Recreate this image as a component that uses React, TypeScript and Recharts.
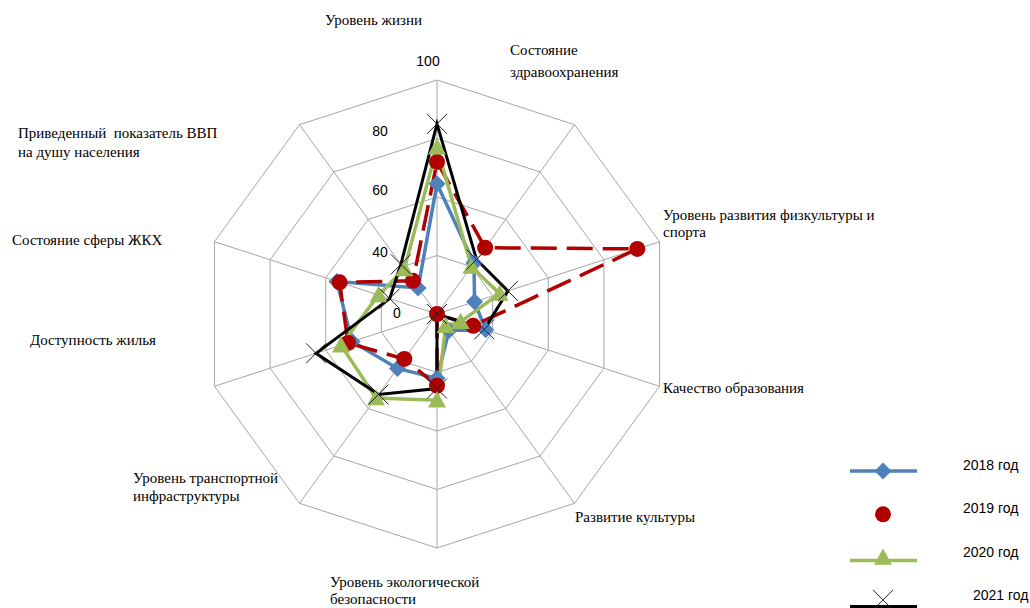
import React from "react";
import {
  RadarChart,
  Radar,
  PolarGrid,
  PolarAngleAxis,
  PolarRadiusAxis,
  Legend,
} from "recharts";

const categories = [
  "Уровень жизни",
  "Состояние\nздравоохранения",
  "Уровень развития физкультуры и\nспорта",
  "Качество образования",
  "Развитие культуры",
  "Уровень экологической\nбезопасности",
  "Уровень транспортной\nинфраструктуры",
  "Доступность жилья",
  "Состояние сферы ЖКХ",
  "Приведенный  показатель ВВП\nна душу населения",
];

const values2018 = [64.5, 41.5, 33.5, 37.5, 27, 42, 43, 50.5, 56, 31];
const values2019 = [72, 48, 92, 33, 20, 44.5, 39, 52, 55, 34];
const values2020 = [77, 40, 42.5, 28.5, 25, 49.5, 55.5, 54.5, 41, 39];
const values2021 = [85, 43, 45.5, 37, 20, 45.5, 54, 63.5, 37, 41];

const radiusTicks = [20, 40, 60, 80, 100];
const radiusTickLabels = ["0", "40", "60", "80", "100"];

const seriesNames = ["2018 год", "2019 год", "2020 год", "2021 год"];

const data = categories.map((subject, i) => ({
  subject,
  y2018: values2018[i],
  y2019: values2019[i],
  y2020: values2020[i],
  y2021: values2021[i],
}));

const BLUE = "#4f81bd";
const RED = "#b00000";
const GREEN = "#9bbb59";
const BLACK = "#000000";

const SERIF = "'Liberation Serif', 'Times New Roman', serif";
const SANS = "'Liberation Sans', Arial, sans-serif";

// where the category names sit (left edge, centre of first line, line step)
const labelLayout = [
  { x: 325, y: 20, lh: 18 },
  { x: 510, y: 50, lh: 22 },
  { x: 663, y: 215, lh: 17 },
  { x: 663, y: 388, lh: 17 },
  { x: 575, y: 517, lh: 17 },
  { x: 330, y: 582, lh: 17 },
  { x: 133, y: 478, lh: 18 },
  { x: 30, y: 340, lh: 17 },
  { x: 12, y: 240, lh: 17 },
  { x: 18, y: 133, lh: 19 },
];

const radiusTickOffsets = [
  { dx: -40, dy: -1 },
  { dx: -57, dy: -4 },
  { dx: -57, dy: -7 },
  { dx: -57, dy: -8 },
  { dx: -9, dy: -19 },
];

const diamondPath = (cx: number, cy: number, s: number) =>
  `M${cx},${cy - s}L${cx + s},${cy}L${cx},${cy + s}L${cx - s},${cy}Z`;
const trianglePath = (cx: number, cy: number, s: number) =>
  `M${cx},${cy - s}L${cx + s},${cy + s * 0.8}L${cx - s},${cy + s * 0.8}Z`;

const Marker = ({ kind, cx, cy }: { kind: number; cx: number; cy: number }) => {
  if (cx == null || cy == null) return null;
  if (kind === 0) return <path d={diamondPath(cx, cy, 8.5)} fill={BLUE} />;
  if (kind === 1) return <circle cx={cx} cy={cy} r={8} fill={RED} />;
  if (kind === 2) return <path d={trianglePath(cx, cy, 9)} fill={GREEN} />;
  return (
    <g stroke="#222" strokeWidth={1}>
      <line x1={cx - 10} y1={cy - 10} x2={cx + 10} y2={cy + 10} />
      <line x1={cx - 10} y1={cy + 10} x2={cx + 10} y2={cy - 10} />
    </g>
  );
};

const dotFor = (kind: number) => (p: any) =>
  <Marker key={`m${kind}-${p.index}`} kind={kind} cx={p.cx} cy={p.cy} />;

const AngleTick = (props: any) => {
  const i = categories.indexOf(props.payload.value);
  const l = labelLayout[i];
  const lines = String(props.payload.value).split("\n");
  return (
    <text
      fontFamily={SERIF}
      fontSize={15}
      fill="#000"
      textAnchor="start"
      dominantBaseline="central"
      style={{ whiteSpace: "pre" }}
    >
      {lines.map((t, k) => (
        <tspan key={k} x={l.x} y={l.y + k * l.lh}>
          {t}
        </tspan>
      ))}
    </text>
  );
};

const RadiusTick = (props: any) => {
  const i = radiusTicks.indexOf(props.payload.value);
  if (i < 0) return null;
  const o = radiusTickOffsets[i];
  return (
    <text
      x={props.x + o.dx}
      y={props.y + o.dy}
      fontFamily={SANS}
      fontSize={14}
      fill="#000"
      textAnchor="middle"
      dominantBaseline="central"
    >
      {radiusTickLabels[i]}
    </text>
  );
};

const LegendBox = () => (
  <svg width={200} height={158} style={{ display: "block", overflow: "visible" }}>
    {seriesNames.map((name, i) => {
      const ty = 15 + i * 43.3;
      const my = ty + 6;
      return (
        <g key={name}>
          {i === 0 && <line x1={20} x2={87} y1={my} y2={my} stroke={BLUE} strokeWidth={3.5} />}
          {i === 2 && <line x1={20} x2={87} y1={my + 3} y2={my + 3} stroke={GREEN} strokeWidth={3.5} />}
          {i === 3 && <line x1={20} x2={87} y1={my + 6} y2={my + 6} stroke={BLACK} strokeWidth={4} />}
          <Marker kind={i} cx={53} cy={i === 3 ? my - 1 : my} />
          <text
            x={i === 3 ? 143 : 133}
            y={ty}
            fontFamily={SANS}
            fontSize={14}
            fill="#000"
            dominantBaseline="central"
          >
            {name}
          </text>
        </g>
      );
    })}
  </svg>
);

export default function App() {
  return (
    <div style={{ position: "absolute", left: 0, top: 0, width: 1030, height: 608, background: "#fff" }}>
      <RadarChart
        width={1030}
        height={608}
        data={data}
        cx={437}
        cy={314}
        outerRadius={234}
        startAngle={90}
        endAngle={-270}
        margin={{ top: 0, right: 0, bottom: 0, left: 0 }}
      >
        <PolarGrid gridType="polygon" stroke="#a6a6a6" strokeWidth={1} />
        <PolarAngleAxis dataKey="subject" tick={AngleTick} tickLine={false} axisLine={false} />
        <PolarRadiusAxis
          angle={90}
          domain={[20, 100]}
          ticks={radiusTicks as any}
          tickCount={5}
          tick={RadiusTick}
          axisLine={false}
          tickLine={false}
        />
        <Radar
          name={seriesNames[0]}
          dataKey="y2018"
          stroke={BLUE}
          strokeWidth={3.5}
          fill="none"
          fillOpacity={0}
          dot={dotFor(0)}
          isAnimationActive={false}
        />
        <Radar
          name={seriesNames[1]}
          dataKey="y2019"
          stroke={RED}
          strokeWidth={3.5}
          strokeDasharray="26 10"
          fill="none"
          fillOpacity={0}
          dot={dotFor(1)}
          isAnimationActive={false}
        />
        <Radar
          name={seriesNames[2]}
          dataKey="y2020"
          stroke={GREEN}
          strokeWidth={3.5}
          fill="none"
          fillOpacity={0}
          dot={dotFor(2)}
          isAnimationActive={false}
        />
        <Radar
          name={seriesNames[3]}
          dataKey="y2021"
          stroke={BLACK}
          strokeWidth={3}
          fill="none"
          fillOpacity={0}
          dot={dotFor(3)}
          isAnimationActive={false}
        />
        <Legend
          content={LegendBox}
          wrapperStyle={{ position: "absolute", left: 830, top: 450, width: 200, height: 158 }}
        />
      </RadarChart>
    </div>
  );
}
